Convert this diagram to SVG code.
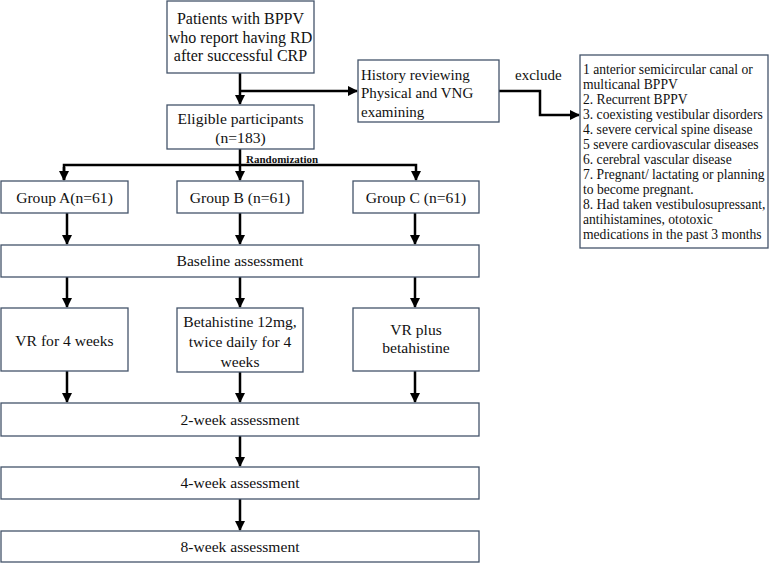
<svg xmlns="http://www.w3.org/2000/svg" width="769" height="564" viewBox="0 0 769 564">
<defs>
<style>
.box{fill:#fff;stroke:#44546a;stroke-width:1.3}
text{font-family:'Liberation Serif','Times New Roman',serif;fill:#111}
.t{font-size:15.6px;text-anchor:middle}
.tb{font-size:16px;text-anchor:middle}
.tl{font-size:15px}
.ex{font-size:13.6px}
.rnd{font-size:11px;font-weight:bold}
.c{fill:none;stroke:#000;stroke-width:2.5}
</style>
<marker id="ah" viewBox="0 0 10 10" refX="9" refY="5" markerWidth="4" markerHeight="4" orient="auto" markerUnits="strokeWidth">
<path d="M0,0 L10,5 L0,10 z" fill="#000"/>
</marker>
</defs>
<rect width="769" height="564" fill="#fff"/>
<g id="connectors">
<path class="c" d="M240,73 V104" marker-end="url(#ah)"/>
<path class="c" d="M240,91 H357" marker-end="url(#ah)"/>
<path class="c" d="M499,91 H540 V115 H579" marker-end="url(#ah)"/>
<path class="c" d="M240,149 V180" marker-end="url(#ah)"/>
<path class="c" d="M64,180 V165 H416 V180" marker-end="url(#ah)"/>
<path class="c" d="M64,167 V180" marker-end="url(#ah)"/>
<path class="c" d="M67,213 V244" marker-end="url(#ah)"/>
<path class="c" d="M240,213 V244" marker-end="url(#ah)"/>
<path class="c" d="M415,213 V244" marker-end="url(#ah)"/>
<path class="c" d="M67,277 V307" marker-end="url(#ah)"/>
<path class="c" d="M240,277 V307" marker-end="url(#ah)"/>
<path class="c" d="M415,277 V307" marker-end="url(#ah)"/>
<path class="c" d="M67,371 V402" marker-end="url(#ah)"/>
<path class="c" d="M240,372 V402" marker-end="url(#ah)"/>
<path class="c" d="M415,371 V402" marker-end="url(#ah)"/>
<path class="c" d="M240,436 V466" marker-end="url(#ah)"/>
<path class="c" d="M240,499 V530" marker-end="url(#ah)"/>
<text class="rnd" x="246" y="163">Randomization</text>
<text class="tl" x="515" y="80">exclude</text>
</g>
<g id="patients">
<rect class="box" x="167" y="1" width="147" height="72"/>
<text class="tb" x="240.5" y="24">Patients with BPPV</text>
<text class="tb" x="240.5" y="43">who report having RD</text>
<text class="tb" x="240.5" y="61">after successful CRP</text>
</g>
<g id="history">
<rect class="box" x="358" y="60" width="141" height="62"/>
<text class="tl" x="361" y="80">History reviewing</text>
<text class="tl" x="361" y="98">Physical  and VNG</text>
<text class="tl" x="361" y="117">examining</text>
</g>
<g id="exclusion">
<rect class="box" x="580" y="55" width="188" height="193"/>
<text class="ex" x="583" y="74">1 anterior  semicircular  canal or</text>
<text class="ex" x="583" y="89">multicanal  BPPV</text>
<text class="ex" x="583" y="104">2. Recurrent  BPPV</text>
<text class="ex" x="583" y="119">3. coexisting  vestibular  disorders</text>
<text class="ex" x="583" y="134">4. severe cervical  spine disease</text>
<text class="ex" x="583" y="149">5 severe cardiovascular  diseases</text>
<text class="ex" x="583" y="164">6. cerebral vascular  disease</text>
<text class="ex" x="583" y="179">7. Pregnant/  lactating  or planning</text>
<text class="ex" x="583" y="194">to become pregnant.</text>
<text class="ex" x="583" y="209">8. Had taken vestibulosupressant,</text>
<text class="ex" x="583" y="224">antihistamines,  ototoxic</text>
<text class="ex" x="583" y="239">medications  in the past 3 months</text>
</g>
<g id="eligible">
<rect class="box" x="167" y="105" width="147" height="44"/>
<text class="t" x="240.5" y="124">Eligible  participants</text>
<text class="t" x="240.5" y="143">(n=183)</text>
</g>
<g id="groupA">
<rect class="box" x="1" y="181" width="127" height="32"/>
<text class="t" x="64.5" y="203">Group A(n=61)</text>
</g>
<g id="groupB">
<rect class="box" x="177" y="181" width="126" height="32"/>
<text class="t" x="240" y="203">Group B  (n=61)</text>
</g>
<g id="groupC">
<rect class="box" x="353" y="181" width="126" height="32"/>
<text class="t" x="416" y="203">Group C (n=61)</text>
</g>
<g id="baseline">
<rect class="box" x="1" y="245" width="478" height="32"/>
<text class="t" x="240" y="266">Baseline  assessment</text>
</g>
<g id="vr">
<rect class="box" x="1" y="308" width="127" height="63"/>
<text class="t" x="64.5" y="346">VR  for 4 weeks</text>
</g>
<g id="betahistine">
<rect class="box" x="177" y="308" width="126" height="64"/>
<text class="t" x="240" y="327">Betahistine  12mg,</text>
<text class="t" x="240" y="347">twice daily  for 4</text>
<text class="t" x="240" y="367">weeks</text>
</g>
<g id="vrplus">
<rect class="box" x="353" y="308" width="126" height="63"/>
<text class="t" x="416" y="335">VR plus</text>
<text class="t" x="416" y="353">betahistine</text>
</g>
<g id="week2">
<rect class="box" x="1" y="403" width="478" height="33"/>
<text class="t" x="240" y="425">2-week  assessment</text>
</g>
<g id="week4">
<rect class="box" x="1" y="467" width="478" height="32"/>
<text class="t" x="240" y="488">4-week  assessment</text>
</g>
<g id="week8">
<rect class="box" x="1" y="531" width="478" height="31"/>
<text class="t" x="240" y="552">8-week  assessment</text>
</g>
</svg>
